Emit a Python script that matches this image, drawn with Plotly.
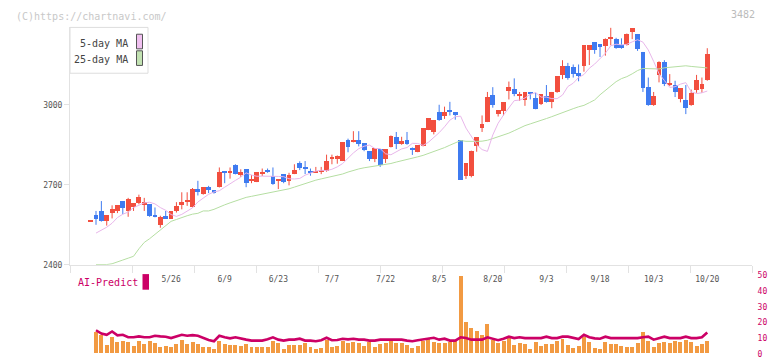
import plotly.graph_objects as go

# ---------------- data ----------------
day_index = list(range(116))
opens = [2560, 2584, 2599, 2562, 2594, 2599, 2638, 2599, 2617, 2630,
         2621, 2627, 2584, 2547, 2580, 2572, 2601, 2621, 2635, 2615,
         2682, 2663, 2690, 2678, 2690, 2748, 2744, 2773, 2735, 2758,
         2716, 2710, 2739, 2755, 2730, 2715, 2740, 2712, 2740, 2782,
         2767, 2752, 2745, 2748, 2749, 2795, 2795, 2789, 2868, 2859,
         2868, 2855, 2826, 2795, 2834, 2795, 2840, 2879, 2850, 2865,
         2832, 2822, 2844, 2905, 2895, 2971, 2958, 2980, 2971, 2865,
         2730, 2730, 2843, 2910, 2935, 3035, 2965, 2977, 3050, 3057,
         3035, 3015, 3048, 3023, 3002, 3033, 3008, 3045, 3111, 3143,
         3139, 3117, 3143, 3202, 3234, 3227, 3218, 3246, 3245, 3224,
         3222, 3273, 3263, 3198, 3066, 2996, 3111, 3157, 3074, 3074,
         3020, 3017, 2996, 3054, 3056, 3090]
highs = [2560, 2602, 2639, 2584, 2623, 2623, 2638, 2651, 2629, 2663,
         2651, 2627, 2615, 2584, 2602, 2600, 2635, 2672, 2672, 2688,
         2715, 2690, 2696, 2678, 2765, 2751, 2765, 2777, 2758, 2758,
         2737, 2748, 2761, 2761, 2765, 2716, 2740, 2745, 2777, 2788,
         2789, 2761, 2767, 2767, 2813, 2813, 2810, 2859, 2873, 2901,
         2901, 2855, 2826, 2837, 2834, 2832, 2885, 2898, 2880, 2898,
         2840, 2846, 2910, 2950, 2941, 3000, 2993, 3011, 2971, 2865,
         2779, 2828, 2879, 2960, 3048, 3066, 2978, 3008, 3087, 3099,
         3048, 3048, 3048, 3045, 3038, 3074, 3048, 3105, 3167, 3157,
         3151, 3151, 3222, 3221, 3234, 3227, 3249, 3289, 3251, 3249,
         3267, 3285, 3263, 3198, 3102, 3048, 3163, 3167, 3115, 3090,
         3060, 3074, 3057, 3112, 3102, 3212]
lows = [2560, 2550, 2562, 2547, 2574, 2594, 2590, 2580, 2602, 2627,
        2602, 2580, 2578, 2539, 2572, 2572, 2596, 2608, 2621, 2615,
        2660, 2663, 2669, 2667, 2690, 2706, 2723, 2739, 2730, 2691,
        2706, 2710, 2733, 2745, 2700, 2684, 2706, 2698, 2740, 2755,
        2740, 2734, 2745, 2740, 2749, 2777, 2779, 2789, 2822, 2859,
        2844, 2826, 2789, 2785, 2767, 2782, 2840, 2834, 2850, 2850,
        2812, 2822, 2844, 2905, 2889, 2940, 2947, 2960, 2944, 2718,
        2722, 2728, 2824, 2898, 2935, 2989, 2956, 2960, 3020, 3032,
        3015, 2996, 3020, 2983, 2999, 3008, 2987, 3045, 3096, 3094,
        3102, 3088, 3124, 3149, 3191, 3179, 3184, 3223, 3210, 3210,
        3222, 3246, 3202, 3048, 2996, 2996, 3084, 3070, 3070, 3029,
        3009, 2965, 2996, 3045, 3045, 3090]
closes = [2560, 2572, 2562, 2584, 2608, 2623, 2611, 2647, 2629, 2651,
          2635, 2580, 2578, 2578, 2572, 2600, 2618, 2635, 2643, 2682,
          2672, 2690, 2678, 2667, 2748, 2743, 2746, 2739, 2748, 2706,
          2721, 2748, 2741, 2745, 2702, 2716, 2709, 2737, 2755, 2763,
          2759, 2743, 2752, 2749, 2788, 2804, 2806, 2859, 2840, 2868,
          2850, 2828, 2795, 2837, 2771, 2832, 2883, 2850, 2862, 2850,
          2830, 2846, 2910, 2950, 2941, 2940, 2971, 2974, 2960, 2718,
          2779, 2824, 2879, 2926, 3026, 2999, 2978, 3008, 3066, 3038,
          3037, 3048, 3038, 2983, 3038, 3008, 3048, 3105, 3143, 3100,
          3115, 3105, 3222, 3221, 3202, 3216, 3245, 3251, 3210, 3210,
          3263, 3285, 3206, 3063, 2996, 3033, 3157, 3076, 3076, 3045,
          3060, 2987, 3042, 3090, 3078, 3188]
volume = [None, 13.6, 11.9, 5.5, 10.5, 7.3, 8.0, 7.3, 4.8, 8.0,
          6.1, 8.0, 6.7, 4.2, 4.8, 4.2, 6.1, 8.6, 6.1, 7.3,
          6.1, 4.2, 4.2, 3.0, 8.0, 6.1, 5.5, 5.5, 4.8, 6.1,
          4.2, 4.2, 4.2, 4.2, 8.0, 6.7, 3.0, 5.2, 5.5, 5.5,
          6.7, 4.2, 3.0, 3.6, 8.6, 4.2, 4.9, 8.0, 6.7, 7.3,
          6.7, 4.9, 7.3, 4.2, 6.1, 6.7, 8.6, 6.7, 6.7, 5.5,
          3.6, 4.9, 8.0, 9.2, 7.3, 6.7, 6.7, 7.3, 8.6, 49.6,
          19.8, 16.0, 14.2, 11.7, 18.5, 8.6, 6.7, 8.0, 9.8, 5.5,
          6.7, 6.1, 3.0, 7.3, 4.9, 6.1, 6.1, 8.0, 9.2, 5.5,
          3.6, 4.9, 10.5, 7.3, 3.6, 3.0, 7.3, 6.1, 6.1, 4.9,
          4.2, 4.2, 6.7, 13.6, 8.0, 4.2, 6.7, 7.3, 6.7, 8.0,
          7.3, 8.6, 7.3, 4.9, 6.1, 8.0]
ai_predict = [None, 15.0, 12.9, 12.1, 14.2, 11.7, 12.1, 10.5, 10.5, 11.1,
              10.5, 10.5, 11.5, 11.1, 10.9, 10.0, 10.9, 12.1, 11.5, 11.9,
              11.5, 10.0, 8.8, 8.0, 11.5, 10.5, 9.8, 10.5, 9.6, 9.0,
              8.4, 8.4, 8.4, 9.2, 10.5, 9.0, 8.4, 9.0, 9.0, 9.6,
              8.4, 8.4, 8.0, 8.6, 10.2, 8.6, 8.8, 9.6, 9.2, 9.6,
              9.0, 9.0, 8.4, 8.4, 9.0, 9.0, 9.0, 9.0, 9.0, 8.4,
              8.0, 8.6, 9.0, 9.6, 10.2, 9.0, 9.6, 8.4, 8.4, 10.5,
              10.0, 9.0, 9.0, 9.0, 10.5, 9.6, 8.6, 9.6, 10.9, 10.0,
              10.5, 10.0, 10.0, 10.0, 10.0, 10.9, 10.0, 10.0, 10.9, 10.9,
              10.0, 9.4, 12.1, 10.5, 9.8, 9.6, 10.9, 10.0, 10.0, 10.0,
              10.0, 10.0, 10.0, 10.5, 10.9, 9.0, 10.0, 10.9, 10.0, 10.0,
              10.0, 10.9, 10.0, 10.0, 10.5, 13.6]
# moving-average values before enough closes exist
ma5_head = [2519, 2529, 2541, 2556]
ma25_head = [2401, 2401, 2401, 2404, 2410, 2418, 2425, 2432, 2460, 2484,
             2498, 2515, 2530, 2546, 2563, 2570, 2578, 2584, 2590, 2593,
             2602, 2602, 2608, 2618]
date_ticks = [15, 25, 35, 45, 55, 65, 75, 85, 95, 105, 115]
date_labels = ["5/26", "6/9", "6/23", "7/7", "7/22", "8/5", "8/20",
               "9/3", "9/18", "10/3", "10/20"]
price_ticks = [2400, 2700, 3000]
vol_ticks = [0, 10, 20, 30, 40, 50]

# moving averages of the previous closes, as plotted
ma5 = [None] + ma5_head + [sum(closes[i - 5:i]) / 5 for i in range(5, len(closes))]
ma25 = [None] + ma25_head + [sum(closes[i - 25:i]) / 25 for i in range(25, len(closes))]

# ---------------- styling ----------------
W, H = 772, 361
RED = "#f24f3f"
BLUE = "#3f7bf0"
ORANGE = "#f29a42"
CRIMSON = "#cc0066"
AXIS = "#e2e2e2"
FONT = "DejaVu Sans Mono"


def px(x):
    return x / W


def py(y):
    return 1 - y / H


X0, X1 = 70, 752
SPACING = 5.362
XPIX0 = 90.64
xrange_ = [(X0 - XPIX0) / SPACING, (X1 - XPIX0) / SPACING]

up = [c >= o for o, c in zip(opens, closes)]
colors = [RED if u else BLUE for u in up]
body_base = [min(o, c) for o, c in zip(opens, closes)]
body_h = [max(abs(c - o), 4) for o, c in zip(opens, closes)]

fig = go.Figure()

# wicks
for flag, col in ((True, RED), (False, BLUE)):
    wx, wy = [], []
    for i in day_index:
        if up[i] == flag and highs[i] > lows[i]:
            wx += [i, i, None]
            wy += [lows[i], highs[i], None]
    fig.add_trace(go.Scatter(x=wx, y=wy, mode="lines", line=dict(color=col, width=1),
                             hoverinfo="skip", showlegend=False, xaxis="x", yaxis="y"))

# bodies
fig.add_trace(go.Bar(x=day_index, y=body_h, base=body_base, width=0.9,
                     marker=dict(color=colors, line=dict(width=0)),
                     hoverinfo="skip", showlegend=False, xaxis="x", yaxis="y"))

# moving averages
fig.add_trace(go.Scatter(x=day_index, y=ma25, mode="lines",
                         line=dict(color="#b5dea2", width=1),
                         hoverinfo="skip", showlegend=False, xaxis="x", yaxis="y"))
fig.add_trace(go.Scatter(x=day_index, y=ma5, mode="lines",
                         line=dict(color="#e8b6ea", width=1),
                         hoverinfo="skip", showlegend=False, xaxis="x", yaxis="y"))

# date label axis helper trace
fig.add_trace(go.Scatter(x=[None], y=[None], xaxis="x3", yaxis="y",
                         hoverinfo="skip", showlegend=False))

# volume + AI predict
fig.add_trace(go.Bar(x=day_index, y=volume, width=0.74,
                     marker=dict(color=ORANGE, line=dict(width=0)),
                     hoverinfo="skip", showlegend=False, xaxis="x2", yaxis="y2"))
fig.add_trace(go.Scatter(x=day_index, y=ai_predict, mode="lines",
                         line=dict(color=CRIMSON, width=2.6),
                         hoverinfo="skip", showlegend=False, xaxis="x2", yaxis="y2"))

tick_pos = [xrange_[0] + k * 62 / SPACING for k in range(12)]

fig.update_layout(
    width=W, height=H,
    margin=dict(l=0, r=0, t=0, b=0),
    paper_bgcolor="white", plot_bgcolor="white",
    barmode="overlay", bargap=0,
    showlegend=False,
    font=dict(family=FONT, size=8, color="#555555"),
    xaxis=dict(domain=[px(X0), px(X1)], range=xrange_, anchor="y",
               showline=True, linecolor=AXIS, linewidth=1,
               tickmode="array", tickvals=tick_pos, ticktext=[""] * 12,
               ticks="outside", ticklen=7, tickcolor=AXIS, tickwidth=1,
               showgrid=False, zeroline=False, fixedrange=True),
    xaxis3=dict(overlaying="x", anchor="y", range=xrange_, domain=[px(X0), px(X1)],
                tickmode="array", tickvals=date_ticks, ticktext=date_labels,
                ticks="outside", ticklen=7, tickcolor="rgba(0,0,0,0)",
                tickfont=dict(family=FONT, size=8, color="#555555"),
                showline=False, showgrid=False, zeroline=False, fixedrange=True),
    yaxis=dict(domain=[py(267.5), py(24)], range=[2400, 3290], anchor="x",
               tickmode="array", tickvals=price_ticks,
               ticks="outside", ticklen=5, tickcolor=AXIS,
               showline=True, linecolor=AXIS, linewidth=1,
               tickfont=dict(family=FONT, size=8, color="#555555"),
               showgrid=False, zeroline=False, fixedrange=True),
    xaxis2=dict(domain=[px(X0), px(X1)], range=xrange_, anchor="y2",
                visible=False, fixedrange=True),
    yaxis2=dict(domain=[py(358.7), py(278.3)], range=[0, 50], anchor="x2", side="right",
                tickmode="array", tickvals=vol_ticks,
                ticks="outside", ticklen=3, tickcolor="rgba(0,0,0,0)",
                tickfont=dict(family=FONT, size=8, color=CRIMSON),
                showline=False, showgrid=False, zeroline=False, fixedrange=True),
)

shapes = [
    dict(type="rect", xref="paper", yref="paper", x0=px(70), x1=px(148), y0=py(71), y1=py(24),
         line=dict(color="#dddddd", width=1), fillcolor="white", layer="below"),
    dict(type="rect", xref="paper", yref="paper", x0=px(136.5), x1=px(142.5), y0=py(46), y1=py(31),
         line=dict(color="#555555", width=1), fillcolor="#f0c0f0"),
    dict(type="rect", xref="paper", yref="paper", x0=px(136.5), x1=px(142.5), y0=py(63), y1=py(48),
         line=dict(color="#555555", width=1), fillcolor="#c2e2b2"),
    dict(type="rect", xref="paper", yref="paper", x0=px(142.5), x1=px(149), y0=py(293), y1=py(277),
         line=dict(width=0), fillcolor=CRIMSON),
]
annotations = [
    dict(text="(C)https://chartnavi.com/", x=px(14), y=py(12.5), xref="paper", yref="paper",
         xanchor="left", yanchor="middle", showarrow=False,
         font=dict(family=FONT, size=10, color="#c8c8c8")),
    dict(text="3482", x=px(757), y=py(11), xref="paper", yref="paper",
         xanchor="right", yanchor="middle", showarrow=False,
         font=dict(family=FONT, size=10, color="#bbbbbb")),
    dict(text="5-day MA", x=px(130), y=py(40.5), xref="paper", yref="paper",
         xanchor="right", yanchor="middle", showarrow=False,
         font=dict(family=FONT, size=10, color="#444444")),
    dict(text="25-day MA", x=px(130), y=py(57), xref="paper", yref="paper",
         xanchor="right", yanchor="middle", showarrow=False,
         font=dict(family=FONT, size=10, color="#444444")),
    dict(text="AI-Predict", x=px(75.5), y=py(286), xref="paper", yref="paper",
         xanchor="left", yanchor="middle", showarrow=False,
         font=dict(family=FONT, size=10, color=CRIMSON)),
]
fig.update_layout(shapes=shapes, annotations=annotations)

fig.write_html("out.html", config={"displayModeBar": False},
               post_script="document.body.style.margin='0';document.body.style.overflow='hidden';")
